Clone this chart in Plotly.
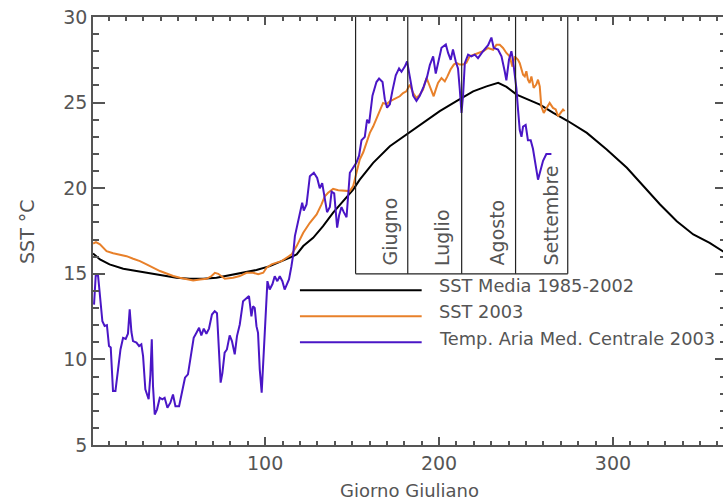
import plotly.graph_objects as go

# ---------------- data ----------------
mean_day = [1, 5, 10.5, 18.4, 26, 33.7, 41.3, 49, 56.7, 64.3, 72, 79.7, 87.4, 95, 102.7,
            108.4, 114.2, 118.1, 121.9, 127.6, 133.3, 139.1, 144.8, 150.6, 154.4, 162.1,
            171.7, 181.2, 190.8, 200.4, 210, 219.6, 227.3, 234, 238.8, 244.6, 252.3, 258,
            265.7, 274.3, 285, 296.4, 308, 317.5, 327.1, 336.7, 346.2, 355.6, 362.3, 365]
mean_sst = [16.19, 15.84, 15.55, 15.3, 15.16, 15.02, 14.91, 14.77, 14.71, 14.71, 14.77, 14.91,
            15.06, 15.22, 15.45, 15.68, 15.94, 16.13, 16.62, 17.1, 17.78, 18.57, 19.24, 19.92,
            20.5, 21.48, 22.45, 23.13, 23.82, 24.5, 25.08, 25.66, 25.95, 26.15, 25.92, 25.47,
            25.13, 24.88, 24.4, 23.91, 23.23, 22.26, 21.19, 20.12, 19.05, 18.07, 17.3, 16.81,
            16.38, 16.2]

sst03_day = [1.1, 2.7, 5, 8.8, 12.6, 16.5, 20.3, 24.1, 28, 31.8, 35.6, 39.5, 43.3, 47.1, 51,
             54.8, 58.6, 62.5, 66.3, 69.2, 71.1, 73, 74.9, 76.8, 81.6, 85.4, 89.3, 93.1, 96,
             98.9, 100.8, 103.7, 106.6, 109.4, 112.3, 115.2, 118.1, 121.9, 125.7, 129.6, 132.4,
             134.3, 136.2, 139.1, 142, 145.8, 148.7, 150.6, 152.5, 154.4, 156.4, 158.3, 160.2,
             162.1, 164, 165.9, 167.8, 169.8, 171.7, 173.6, 175.5, 177.4, 179.3, 181.2, 183.2,
             185.1, 187, 188.9, 190.8, 192.8, 194.3, 195.6, 196.9, 198.1, 199.4, 201.4, 203.3,
             204.8, 206.6, 208.5, 210, 211.9, 213.8, 215.7, 217.6, 221.5, 225.3, 228.2, 231.1,
             233, 234.9, 236.8, 238.7, 240.6, 242.2, 243.5, 245.4, 246.4, 248.3, 249.3, 250.2,
             251.1, 252.1, 253.1, 254.4, 255.9, 256.9, 257.9, 258.8, 260.2, 261.7, 263.6,
             265.5, 267.1, 268.4, 269.8, 271.3, 272.2]
sst03_val = [16.77, 16.85, 16.72, 16.32, 16.2, 16.13, 16.03, 15.88, 15.74, 15.55, 15.36, 15.16,
             15.02, 14.87, 14.77, 14.71, 14.61, 14.67, 14.71, 14.87, 15.06, 15.0, 14.87, 14.71,
             14.77, 14.87, 15.06, 15.06, 14.97, 15.06, 15.36, 15.55, 15.65, 15.74, 15.94, 16.13,
             16.62, 17.4, 17.98, 18.47, 19.05, 19.53, 19.73, 19.96, 19.88, 19.83, 19.83, 20.12,
             20.9, 21.67, 22.1, 22.65, 23.23, 23.6, 24.1, 24.59, 24.98, 24.9, 25.08, 25.17,
             25.27, 25.37, 25.56, 25.66, 26.05, 25.56, 25.27, 25.46, 25.76, 26.44, 26.05, 25.66,
             25.37, 25.76, 26.15, 26.44, 26.24, 26.53, 26.93, 27.22, 27.32, 27.22, 27.22, 27.32,
             27.7, 27.85, 28.0, 28.19, 28.09, 28.38, 28.38, 28.19, 27.9, 27.7, 27.1, 27.7, 27.5,
             27.3, 26.63, 26.53, 26.83, 26.34, 26.15, 26.53, 25.86, 26.05, 26.34, 25.95, 24.78,
             24.4, 24.69, 24.98, 24.69, 24.6, 24.2, 24.4, 24.59, 24.5]

air_day = [1.6, 2.6, 3.9, 4.9, 6.4, 7.7, 9.0, 10.2, 11.2, 12.5, 13.9, 15.4, 16.8, 18.3, 19.8,
           21.1, 22.1, 23.1, 24, 26, 27.5, 28.8, 29.8, 31.1, 33, 34, 34.8, 35.5, 36.5, 37.8,
           39.4, 40.9, 42.2, 43.8, 45.5, 47, 48.4, 50.5, 52.4, 53.9, 55.6, 57.6, 58.9, 60.5,
           62, 63.3, 64.7, 66.2, 67.7, 69.4, 71, 72.3, 73.5, 74.4, 75.4, 76.7, 78, 79.6, 80.9,
           82.5, 83.8, 85.4, 87.3, 89.2, 90.7, 92.1, 93, 94, 95, 95.9, 96.9, 98, 98.8, 99.9,
           101.3, 102.6, 104.2, 105.5, 107, 108.4, 109.9, 111.2, 112.6, 113.7, 115.1, 116,
           117.1, 119.5, 121.3, 122.2, 123.8, 125.7, 128, 129.9, 131.4, 132.8, 134.3, 135.6,
           137.2, 138.2, 139.7, 141.4, 142.5, 143.9, 145.2, 146.8, 148.7, 150.6, 152.5, 154,
           155.4, 157.3, 158.6, 159.8, 161.7, 164, 165.5, 167.5, 168.8, 170.1, 171.7, 173.2,
           175.1, 177, 178.4, 180.3, 181.6, 183.2, 185.1, 187, 188.9, 191.2, 193.1, 194.7,
           196.6, 198.1, 199.4, 201.4, 203.9, 205.2, 206.7, 208, 209.6, 210.9, 211.9, 212.9,
           213.8, 214.8, 216.7, 218.6, 220.5, 222.4, 225.3, 228.2, 230.1, 231.4, 233.9, 235.9,
           237.8, 238.7, 240.2, 241.6, 242.5, 244.5, 245.4, 246.4, 247.4, 248.3, 249.8, 251.1,
           252.7, 254, 256.9, 258.3, 259.8, 261.7, 264.6]
air_val = [13.2, 14.96, 14.9, 13.7, 12.23, 11.95, 12.0, 10.78, 10.7, 8.15, 8.15, 9.4, 10.58,
           11.26, 11.2, 11.5, 12.92, 11.6, 11.07, 10.98, 10.78, 10.88, 10.19, 8.25, 7.67, 9.1,
           11.17, 8.44, 6.78, 7.07, 7.76, 7.67, 7.76, 7.18, 7.47, 7.95, 7.27, 7.27, 8.25, 8.93,
           9.13, 10.58, 11.26, 11.56, 11.85, 11.4, 11.8, 11.5, 11.8, 12.62, 12.82, 12.7, 10.58,
           8.64, 9.2, 10.39, 10.58, 11.4, 11.07, 10.3, 11.36, 12.04, 13.4, 13.6, 13.7, 12.52,
           13.1, 13.0, 11.94, 11.55, 9.4, 8.05, 9.7, 11.65, 14.57, 14.08, 14.4, 14.86, 14.57,
           14.86, 14.57, 14.08, 14.47, 14.67, 15.44, 16.03, 17.2, 18.3, 19.15, 18.7, 19.05,
           20.7, 20.9, 20.6, 20.0, 20.3, 19.4, 18.6, 18.9, 19.8, 19.7, 17.7, 18.4, 18.9, 18.6,
           18.3, 20.9, 21.2, 21.5, 21.9, 22.8, 23.0, 24.0, 23.8, 25.4, 26.2, 26.4, 26.2, 25.2,
           24.7, 24.9, 25.7, 26.6, 27.0, 26.8, 27.1, 27.4, 26.5, 25.4, 25.1, 25.4, 25.95, 26.5,
           27.2, 27.7, 26.7, 27.3, 28.2, 28.4, 27.9, 27.5, 28.1, 27.4, 27.0, 25.8, 24.4, 25.4,
           27.3, 27.8, 27.7, 27.8, 27.6, 28.0, 28.35, 28.8, 28.2, 28.1, 27.7, 26.8, 26.3, 27.5,
           28.0, 27.5, 25.8, 24.6, 23.4, 23.0, 23.6, 23.7, 22.8, 22.8, 22.3, 20.5, 21.0, 21.6,
           22.0, 22.0]

month_start = [152, 182, 213, 244, 274]
month_names = ["Giugno", "Luglio", "Agosto", "Settembre"]
month_label_x = [171.6, 202.1, 233.1, 264.2]
box_bottom = 15
box_top = 30

series_names = ["SST Media 1985-2002", "SST 2003", "Temp. Aria Med. Centrale 2003"]
series_colors = ["#000000", "#E8802A", "#4A16C6"]
legend_y = [14.04, 12.52, 11.0]
legend_x0, legend_x1, legend_text_x = 120, 190, 199

x_tick_step, x_minor_step = 100, 10
y_tick_step, y_minor_step = 5, 1

# ---------------- figure ----------------
FONT = "DejaVu Sans"
TXT = "#555555"
AX = "#555555"

fig = go.Figure()
for xs, ys, col in [(mean_day, mean_sst, series_colors[0]),
                    (sst03_day, sst03_val, series_colors[1]),
                    (air_day, air_val, series_colors[2])]:
    fig.add_trace(go.Scatter(x=xs, y=ys, mode="lines",
                             line=dict(color=col, width=2), showlegend=False,
                             hoverinfo="skip"))
# invisible helper trace so the right-hand tick axis is drawn
fig.add_trace(go.Scatter(x=[mean_day[0]], y=[mean_sst[0]], yaxis="y2", mode="lines",
                         line=dict(width=0), showlegend=False, hoverinfo="skip"))

shapes = []
for d in month_start:
    shapes.append(dict(type="line", xref="x", yref="y", x0=d, x1=d,
                       y0=box_bottom, y1=box_top, line=dict(color="#222222", width=1.2)))
shapes.append(dict(type="line", xref="x", yref="y", x0=month_start[0], x1=month_start[-1],
                   y0=box_bottom, y1=box_bottom, line=dict(color="#222222", width=1.2)))
for ly, col in zip(legend_y, series_colors):
    shapes.append(dict(type="line", xref="x", yref="y", x0=legend_x0, x1=legend_x1,
                       y0=ly, y1=ly, line=dict(color=col, width=2)))

annotations = []
for name, mx in zip(month_names, month_label_x):
    annotations.append(dict(x=mx, y=box_bottom + 0.35, xref="x", yref="y", text=name,
                            textangle=-90, showarrow=False, xanchor="center",
                            yanchor="bottom", font=dict(family=FONT, size=19, color=TXT)))
for name, ly in zip(series_names, legend_y):
    annotations.append(dict(x=legend_text_x, y=ly + 0.25, xref="x", yref="y", text=name,
                            showarrow=False, xanchor="left", yanchor="middle",
                            font=dict(family=FONT, size=17.8, color=TXT)))
annotations.append(dict(x=-0.1048, y=0.5, xref="paper", yref="paper", text="SST °C",
                        textangle=-90, showarrow=False, xanchor="center", yanchor="middle",
                        font=dict(family=FONT, size=19, color=TXT)))
annotations.append(dict(x=0.5016, y=-0.107, xref="paper", yref="paper",
                        text="Giorno Giuliano", showarrow=False, xanchor="center",
                        yanchor="middle", font=dict(family=FONT, size=18, color=TXT)))

fig.update_layout(
    width=723, height=500, autosize=False,
    margin=dict(l=93, r=0, t=17, b=55),
    paper_bgcolor="white", plot_bgcolor="white",
    shapes=shapes, annotations=annotations,
    xaxis=dict(range=[1, 363.28], tickmode="linear", tick0=0, dtick=x_tick_step,
               ticks="inside", ticklen=8, tickwidth=1.5, tickcolor=AX,
               showline=True, linecolor=AX, linewidth=1.5,
               mirror="ticks", showgrid=False, zeroline=False,
               minor=dict(tickmode="linear", tick0=0, dtick=x_minor_step, ticks="inside",
                          ticklen=4, tickwidth=1.5, tickcolor=AX, showgrid=False),
               tickfont=dict(family=FONT, size=19, color=TXT)),
    yaxis=dict(range=[5, 30], tickmode="linear", tick0=0, dtick=y_tick_step,
               ticks="inside", ticklen=12, tickwidth=1.5, tickcolor=AX,
               showline=True, linecolor=AX, linewidth=1.5,
               mirror=False, showgrid=False, zeroline=False,
               minor=dict(tickmode="linear", tick0=0, dtick=y_minor_step, ticks="inside",
                          ticklen=6, tickwidth=1.5, tickcolor=AX, showgrid=False),
               tickfont=dict(family=FONT, size=19, color=TXT)),
    yaxis2=dict(range=[5, 30], overlaying="y", side="right", anchor="x",
                tickmode="linear", tick0=0, dtick=y_tick_step,
                ticks="inside", ticklen=8, tickwidth=1.5, tickcolor=AX, showline=False,
                showticklabels=False, showgrid=False, zeroline=False,
                minor=dict(tickmode="linear", tick0=0, dtick=y_minor_step, ticks="inside",
                           ticklen=3, tickwidth=1.5, tickcolor=AX, showgrid=False)),
)

fig.write_html("out.html")
